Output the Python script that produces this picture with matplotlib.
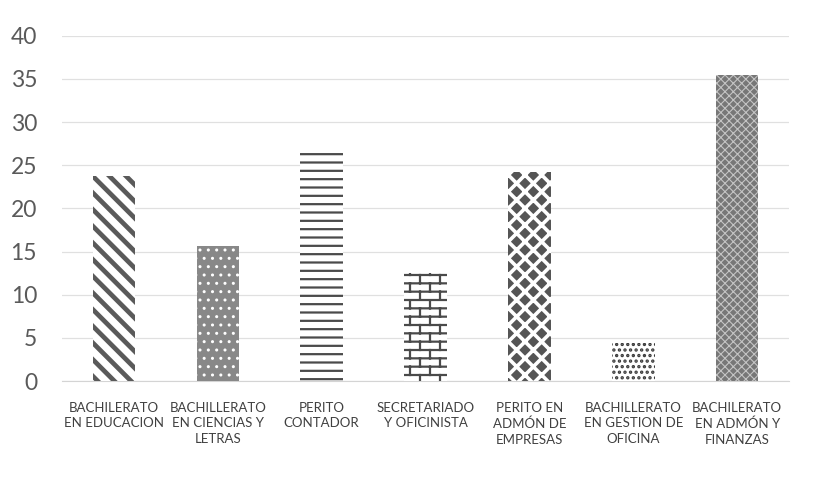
import matplotlib
matplotlib.use('Agg')
import matplotlib.pyplot as plt
import matplotlib.hatch as mhatch
import numpy as np

matplotlib.rcParams.update({
    'font.family': ['Lato', 'DejaVu Sans'],
})

categories = ['BACHILERATO\nEN EDUCACION', 'BACHILLERATO\nEN CIENCIAS Y\nLETRAS',
              'PERITO\nCONTADOR', 'SECRETARIADO\nY OFICINISTA',
              'PERITO EN\nADMÓN DE\nEMPRESAS', 'BACHILLERATO\nEN GESTION DE\nOFICINA',
              'BACHILERATO\nEN ADMÓN Y\nFINANZAS']
values = [23.7, 15.7, 26.4, 12.5, 24.2, 4.4, 35.5]
yticks = [0, 5, 10, 15, 20, 25, 30, 35, 40]


# brick pattern, hooked onto the '*' hatch character
class BrickHatch(mhatch.HatchPatternBase):
    def __init__(self, hatch, density):
        self.on = hatch.count('*') > 0
        self.rows = 12
        self.cols = 5
        n_h = self.rows + 1
        n_v = self.rows * (self.cols + 1)
        self.num_vertices = (n_h + n_v) * 2 if self.on else 0

    def set_vertices_and_codes(self, vertices, codes):
        verts = []
        for i in range(self.rows + 1):
            y = i / self.rows
            verts += [(0, y), (1, y)]
        for i in range(self.rows):
            y0, y1 = i / self.rows, (i + 1) / self.rows
            off = 0.5 * (i % 2)
            for j in range(self.cols + 1):
                x = min((j + off) / self.cols, 1.0)
                verts += [(x, y0), (x, y1)]
        verts = np.array(verts)
        vertices[:] = verts[:len(vertices)]
        codes[0::2] = 1
        codes[1::2] = 2


mhatch._hatch_types = [BrickHatch if t is mhatch.Stars else t for t in mhatch._hatch_types]

# face, hatch colour, hatch, hatch width
styles = [
    ('white', '#5a5a5a', '\\\\', 3.4),
    ('#888888', 'white', '..', 1.0),
    ('white', '#4a4a4a', '--', 1.6),
    ('white', '#4a4a4a', '*', 1.6),
    ('#555555', 'white', 'xx', 2.6),
    ('white', '#3a3a3a', '...', 1.6),
    ('#777777', '#c4c4c4', 'xxxx', 0.8),
]

fig = plt.figure(figsize=(8.16, 5.04), dpi=100)
ax = fig.add_axes([0.076, 0.244, 0.891, 0.685])

x = np.arange(len(categories))
for i in range(len(categories)):
    face, hc, h, lw = styles[i]
    with plt.rc_context({'hatch.linewidth': lw}):
        b = ax.bar(x[i], values[i], 0.41, color=face, edgecolor=hc, hatch=h,
                   linewidth=0, zorder=3)
    for p in b:
        if hasattr(p, 'set_hatch_linewidth'):
            p.set_hatch_linewidth(lw)

ax.set_xlim(-0.5, len(categories) - 0.5)
ax.set_ylim(0, 40)
ax.set_yticks(yticks)
ax.yaxis.grid(True, color='#e0e0e0', linewidth=0.9, zorder=0)
ax.set_axisbelow(True)
for s in ['top', 'right', 'left']:
    ax.spines[s].set_visible(False)
ax.spines['bottom'].set_color('#d4d4d4')
ax.tick_params(axis='y', length=0, pad=18, labelsize=16.5, labelcolor='#5a5a5a')
ax.tick_params(axis='x', length=0, pad=15)
ax.set_xticks(x)
ax.set_xticklabels(categories, fontsize=9.5, color='#404040', linespacing=1.35)

fig.savefig('out.png', dpi=100, facecolor='white')
